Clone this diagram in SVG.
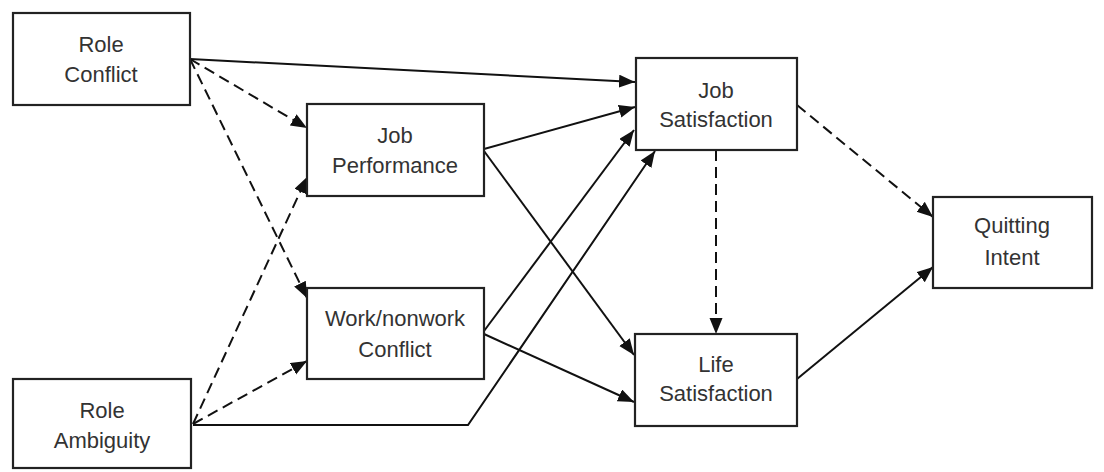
<svg xmlns="http://www.w3.org/2000/svg" width="1104" height="472" viewBox="0 0 1104 472">
<defs>
<style>
.box{fill:#fff;stroke:#222;stroke-width:2.2}
.lbl{font-family:"Liberation Sans",Arial,sans-serif;font-size:22px;fill:#333;text-anchor:middle}
.c{fill:none;stroke:#111;stroke-width:2}
.d{stroke-dasharray:11,6}
</style>
<marker id="ah" markerUnits="userSpaceOnUse" markerWidth="17" markerHeight="14" refX="16" refY="6.5" orient="auto">
<path d="M0,0 L16,6.5 L0,13 z" fill="#111" stroke="none"/>
</marker>
</defs>
<rect width="1104" height="472" fill="#fff"/>
<g id="connectors">
<path class="c" d="M190,59 L635,82" marker-end="url(#ah)"/>
<path class="c d" d="M190,59 L307,128" marker-end="url(#ah)"/>
<path class="c d" d="M190,59 L307,298" marker-end="url(#ah)"/>
<path class="c d" d="M193,424 L307,177" marker-end="url(#ah)"/>
<path class="c d" d="M193,424 L307,361" marker-end="url(#ah)"/>
<path class="c" d="M193,425 L468,425 L655,151" marker-end="url(#ah)"/>
<path class="c" d="M484,149 L635,107" marker-end="url(#ah)"/>
<path class="c" d="M484,151 L634,355" marker-end="url(#ah)"/>
<path class="c" d="M484,331 L634,130" marker-end="url(#ah)"/>
<path class="c" d="M484,334 L634,402" marker-end="url(#ah)"/>
<path class="c d" d="M716,150 L716,334" marker-end="url(#ah)"/>
<path class="c d" d="M797,105 L933,217" marker-end="url(#ah)"/>
<path class="c" d="M797,379 L933,267" marker-end="url(#ah)"/>
</g>
<g id="role-conflict">
<rect class="box" x="13" y="13" width="177" height="92"/>
<text class="lbl" x="101" y="52">Role</text>
<text class="lbl" x="101" y="82">Conflict</text>
</g>
<g id="job-performance">
<rect class="box" x="307" y="104" width="177" height="92"/>
<text class="lbl" x="395" y="143">Job</text>
<text class="lbl" x="395" y="173">Performance</text>
</g>
<g id="work-nonwork-conflict">
<rect class="box" x="307" y="288" width="177" height="91"/>
<text class="lbl" x="395" y="326">Work/nonwork</text>
<text class="lbl" x="395" y="357">Conflict</text>
</g>
<g id="role-ambiguity">
<rect class="box" x="13" y="379" width="178" height="89"/>
<text class="lbl" x="102" y="418">Role</text>
<text class="lbl" x="102" y="448">Ambiguity</text>
</g>
<g id="job-satisfaction">
<rect class="box" x="636" y="58" width="161" height="92"/>
<text class="lbl" x="716" y="98">Job</text>
<text class="lbl" x="716" y="127">Satisfaction</text>
</g>
<g id="life-satisfaction">
<rect class="box" x="635" y="334" width="162" height="92"/>
<text class="lbl" x="716" y="372">Life</text>
<text class="lbl" x="716" y="401">Satisfaction</text>
</g>
<g id="quitting-intent">
<rect class="box" x="933" y="197" width="159" height="91"/>
<text class="lbl" x="1012" y="233">Quitting</text>
<text class="lbl" x="1012" y="265">Intent</text>
</g>
</svg>
